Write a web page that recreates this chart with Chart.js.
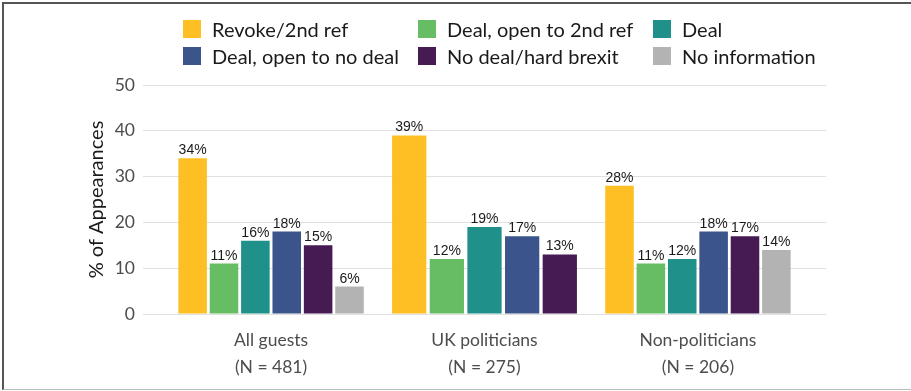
<!DOCTYPE html>
<html>
<head>
<meta charset="utf-8">
<script src="https://cdn.jsdelivr.net/npm/chart.js@4/dist/chart.umd.min.js"></script>
<style>
    body {
        margin: 0;
        background: #fff;
    }
    #wrap {
        position: relative;
        width: 911px;
        height: 391px;
        overflow: hidden;
    }
    #chart {
        position: absolute;
        left: 0;
        top: 0;
    }
    #frame {
        position: absolute;
        left: 2px;
        top: 2px;
        width: 915px;
        height: 385px;
        border-top: 2px solid #555;
        border-left: 2px solid #555;
        border-bottom: 1px solid #bbb;
        pointer-events: none;
    }
    #legend {
        position: absolute;
        left: 183px;
        top: 15px;
        display: grid;
        grid-template-columns: 235px 235px 235px;
        grid-auto-rows: 27.3px;
        font-family: Lato, sans-serif;
        font-size: 20px;
        color: #1a1a1a;
    }
    .legend-item {
        display: flex;
        align-items: center;
        white-space: nowrap;
    }
    .legend-box {
        width: 18px;
        height: 18px;
        margin-right: 11px;
        flex: none;
    }
</style>
</head>
<body>
<div id="wrap">
    <canvas id="chart" width="911" height="391"></canvas>
    <div id="legend"></div>
    <div id="frame"></div>
</div>
<script>
const groupNames = ['All guests', 'UK politicians', 'Non-politicians'];
const groupSizes = [481, 275, 206];

const stanceLabels = [
    'Revoke/2nd ref',
    'Deal, open to 2nd ref',
    'Deal',
    'Deal, open to no deal',
    'No deal/hard brexit',
    'No information',
];
const stanceColors = ['#fdbf24', '#66bd63', '#1f918a', '#3b548b', '#461a52', '#b3b3b3'];

// percent of appearances per group, in the order of groupNames
const revokeSecondRef = [34, 39, 28];
const dealOpenToSecondRef = [11, 12, 11];
const deal = [16, 19, 12];
const dealOpenToNoDeal = [18, 17, 18];
const noDealHardBrexit = [15, 13, 17];
const noInformation = [6, null, 14];

const yTicks = [0, 10, 20, 30, 40, 50];

const stanceValues = [
    revokeSecondRef,
    dealOpenToSecondRef,
    deal,
    dealOpenToNoDeal,
    noDealHardBrexit,
    noInformation,
];

const barLabels = {
    id: 'barLabels',
    afterDatasetsDraw(chart) {
        const ctx = chart.ctx;
        ctx.save();
        ctx.font = '14px "Liberation Sans", Arial, sans-serif';
        ctx.fillStyle = '#1a1a1a';
        ctx.textAlign = 'center';
        ctx.textBaseline = 'alphabetic';
        chart.data.datasets.forEach((dataset, i) => {
            const meta = chart.getDatasetMeta(i);
            meta.data.forEach((bar, j) => {
                const value = dataset.data[j];
                if (value === null || value === undefined) {
                    return;
                }
                ctx.fillText(`${value}%`, bar.x, bar.y - 4);
            });
        });
        ctx.restore();
    },
};

const chart = new Chart(document.getElementById('chart'), {
    type: 'bar',
    data: {
        labels: groupNames.map((name, i) => i),
        datasets: stanceLabels.map((label, i) => ({
            label,
            data: stanceValues[i],
            backgroundColor: stanceColors[i],
            categoryPercentage: 0.882,
            barPercentage: 0.91,
        })),
    },
    options: {
        responsive: false,
        animation: false,
        skipNull: true,
        layout: {
            padding: { left: 81, right: 85, top: 85, bottom: 1 },
        },
        plugins: {
            legend: { display: false },
            tooltip: { enabled: false },
        },
        scales: {
            x: {
                type: 'linear',
                offset: false,
                min: -0.6,
                max: 2.6,
                afterBuildTicks(scale) {
                    scale.ticks = groupNames.map((name, i) => ({ value: i }));
                },
                afterFit(scale) {
                    scale.height = 76;
                },
                grid: { display: false, drawTicks: false },
                border: { display: false },
                ticks: {
                    padding: 13,
                    color: '#4d4d4d',
                    font: { family: 'Lato', size: 17.5, lineHeight: 1.52 },
                    maxRotation: 0,
                    callback: (value) => [groupNames[value], `(N = ${groupSizes[value]})`],
                },
            },
            y: {
                min: yTicks[0],
                max: yTicks[yTicks.length - 1],
                afterBuildTicks(scale) {
                    scale.ticks = yTicks.map((v) => ({ value: v }));
                },
                afterFit(scale) {
                    scale.width = 62;
                },
                grid: { color: '#e0e0e0', lineWidth: 1, drawTicks: false },
                border: { display: false },
                ticks: {
                    padding: 8,
                    color: '#4d4d4d',
                    font: { family: 'Lato', size: 17.5 },
                },
                title: {
                    display: true,
                    text: '% of Appearances',
                    color: '#1a1a1a',
                    font: { family: 'Lato', size: 20 },
                    padding: { top: 4, bottom: 4 },
                },
            },
        },
    },
    plugins: [barLabels],
});

// legend in a fixed three-column grid, built from the chart's datasets
const legendEl = document.getElementById('legend');
chart.data.datasets.forEach((dataset) => {
    const item = document.createElement('div');
    item.className = 'legend-item';
    const box = document.createElement('span');
    box.className = 'legend-box';
    box.style.background = dataset.backgroundColor;
    const text = document.createElement('span');
    text.textContent = dataset.label;
    item.appendChild(box);
    item.appendChild(text);
    legendEl.appendChild(item);
});
</script>
</body>
</html>
